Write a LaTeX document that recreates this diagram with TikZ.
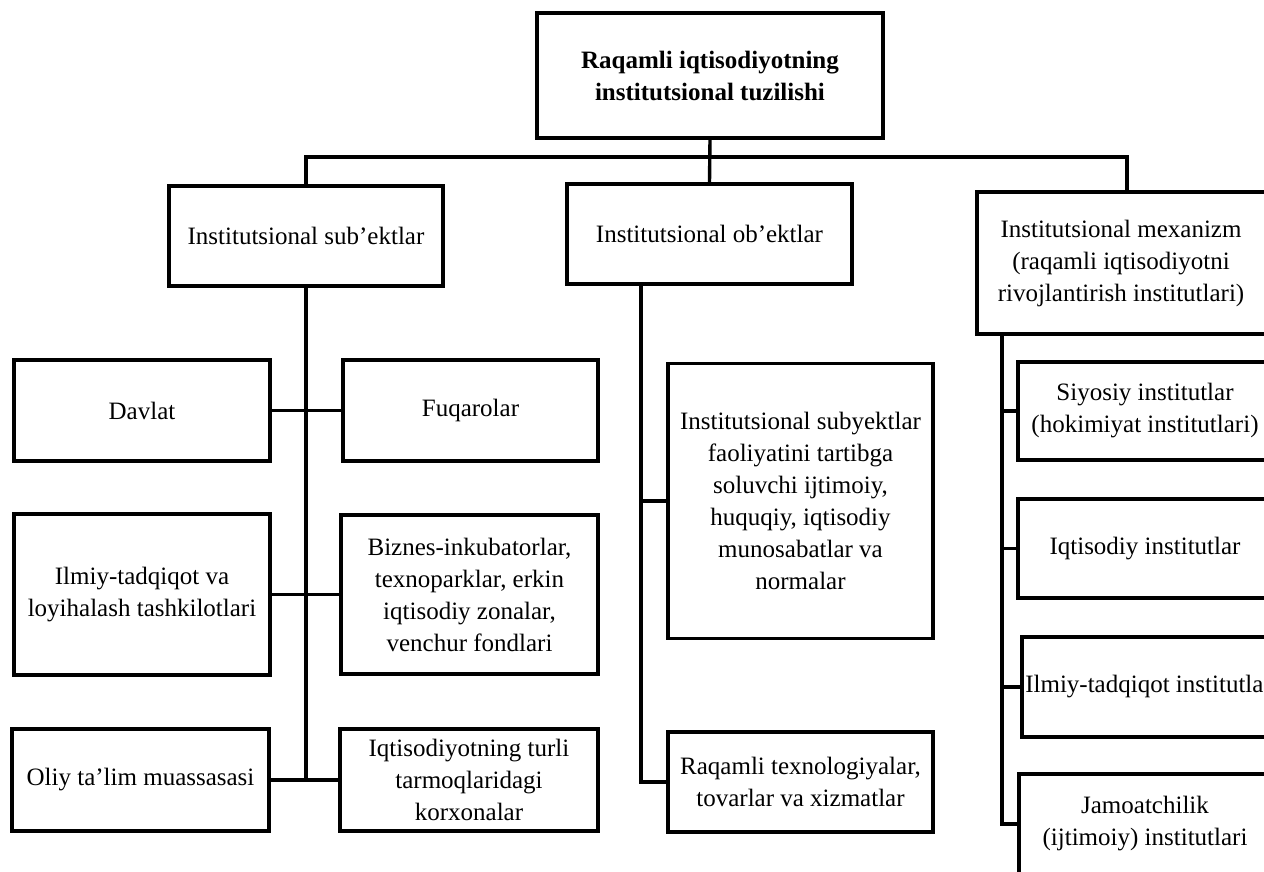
\documentclass[tikz,border=0pt]{standalone}
\usepackage{fontspec}
\setmainfont{Liberation Serif}
\begin{document}
\begin{tikzpicture}[x=0.5pt,y=-0.5pt,
  box/.style={draw, line width=1.7pt, align=center, inner sep=2pt,
    font=\fontsize{12.5pt}{16pt}\selectfont},
  lbl/.style={align=center, inner sep=0pt,
    font=\fontsize{12.5pt}{16pt}\selectfont},
  link/.style={line width=1.7pt}]
\useasboundingbox (0,0) rectangle (1264,872);
\fill[white] (0,0) rectangle (1264,872);
\clip (0,0) rectangle (1264,872);

% root
\node[box, font=\bfseries\fontsize{12.5pt}{16pt}\selectfont,
  minimum width=173pt, minimum height=62.5pt] (root) at (710,75.5)
  {Raqamli iqtisodiyotning\\institutsional tuzilishi};

% second level
\node[box, minimum width=137pt, minimum height=50pt] (subj) at (306,236)
  {Institutsional sub’ektlar};
\node[box, minimum width=142.5pt, minimum height=50pt] (obj) at (709.5,234)
  {Institutsional ob’ektlar};
\node[box, minimum width=154pt, minimum height=71pt,
  label={[lbl, xshift=-5pt]center:{Institutsional mexanizm\\(raqamli iqtisodiyotni\\rivojlantirish institutlari)}}]
  (mex) at (1131,263) {};

% subjects
\node[box, minimum width=128pt, minimum height=50.5pt] (davlat) at (142,410.5) {Davlat};
\node[box, minimum width=127.5pt, minimum height=50.5pt] (fuq) at (470.5,410.5) {Fuqarolar};
\node[box, minimum width=128pt, minimum height=80.5pt] (ilmiy) at (142,594.5)
  {Ilmiy-tadqiqot va\\loyihalash tashkilotlari};
\node[box, minimum width=128.5pt, minimum height=79.5pt] (biz) at (469.5,594.5)
  {Biznes-inkubatorlar,\\texnoparklar, erkin\\iqtisodiy zonalar,\\venchur fondlari};
\node[box, minimum width=128.5pt, minimum height=51pt] (oliy) at (140.5,780)
  {Oliy ta’lim muassasasi};
\node[box, minimum width=129pt, minimum height=51pt] (iqt) at (469,780)
  {Iqtisodiyotning turli\\tarmoqlaridagi\\korxonalar};

% objects
\node[box, minimum width=132.5pt, minimum height=137.5pt] (isub) at (800.5,501)
  {Institutsional subyektlar\\faoliyatini tartibga\\soluvchi ijtimoiy,\\huquqiy, iqtisodiy\\munosabatlar va\\normalar};
\node[box, minimum width=132.5pt, minimum height=50pt] (rtex) at (800.5,782)
  {Raqamli texnologiyalar,\\tovarlar va xizmatlar};

% mechanism (boxes run past the right edge)
\node[box, minimum width=133.5pt, minimum height=49pt,
  label={[lbl, xshift=-3.25pt]center:{Siyosiy institutlar\\(hokimiyat institutlari)}}]
  (siy) at (1151.5,411) {};
\node[box, minimum width=133.5pt, minimum height=49.5pt,
  label={[lbl, xshift=-3.25pt]center:{Iqtisodiy institutlar}}]
  (iqi) at (1151.5,548.5) {};
\node[box, minimum width=131.5pt, minimum height=50pt,
  label={[lbl, xshift=-0.75pt]center:{Ilmiy-tadqiqot institutlari}}]
  (ilmi) at (1153.5,687) {};
\node[box, minimum width=133pt, minimum height=50pt,
  label={[lbl, xshift=-3.5pt]center:{Jamoatchilik\\(ijtimoiy) institutlari}}]
  (jam) at (1152,824) {};

% bus under the root
\coordinate (busL) at (306,157);
\coordinate (busR) at (1127,157);
\draw[link] (root.south) -- (obj.north);
\draw[link] (subj.north) -- (busL) -- (busR) -- (busR |- mex.north);

% subjects spine
\coordinate (sS) at (306,780);
\draw[link] (subj.south) -- (sS);
\draw[link] (davlat.east) -- (fuq.west);
\draw[link] (ilmiy.east) -- (biz.west);
\draw[link] (oliy.east) -- (iqt.west);

% objects spine
\coordinate (oS) at (641,782);
\draw[link] (oS |- obj.south) -- (oS) -- (rtex.west);
\draw[link] (oS |- isub.west) -- (isub.west);

% mechanism spine
\coordinate (mS) at (1002,824);
\draw[link] (mS |- mex.south) -- (mS) -- (jam.west);
\draw[link] (mS |- siy.west) -- (siy.west);
\draw[link] (mS |- iqi.west) -- (iqi.west);
\draw[link] (mS |- ilmi.west) -- (ilmi.west);
\end{tikzpicture}
\end{document}
